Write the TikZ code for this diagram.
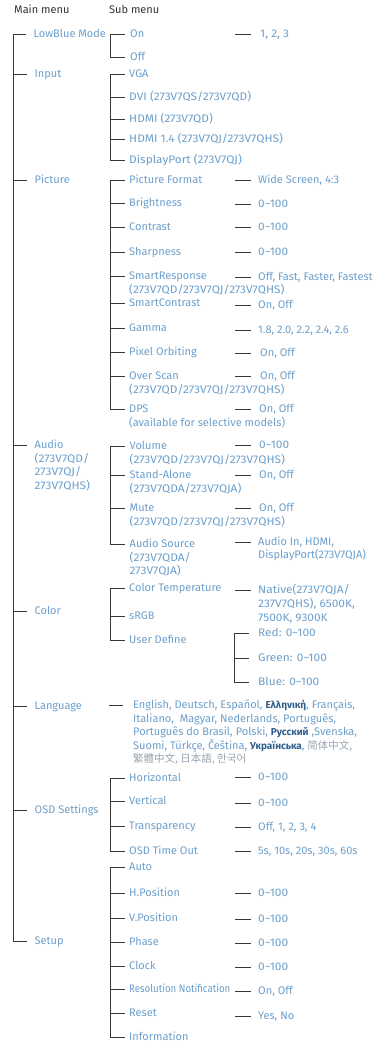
\documentclass[tikz,border=0pt]{standalone}
\usepackage{fontspec}
\setmainfont{Fira Sans}
\newfontfamily\cjkf{Noto Sans CJK SC}
\definecolor{txt}{HTML}{6C9FCB}
\definecolor{hdr}{HTML}{333333}
\definecolor{lnc}{HTML}{383838}
\definecolor{grkc}{HTML}{2F5E8E}
\definecolor{cjkc}{HTML}{98A4B0}
\newcommand\mfs{\fontsize{11}{13.3}\selectfont}
\newcommand\tld{\textasciitilde}
\newcommand\gk[1]{{\color{grkc}\fontsize{10}{13.3}\selectfont\bfseries #1}}
\newcommand\ck[1]{{\color{cjkc}\cjkf\fontsize{10.5}{13.3}\selectfont #1}}
\tikzset{
  it/.style={anchor=west, inner sep=0pt, text height=7.6pt, text depth=0pt, text=txt, font=\mfs},
  wide/.style={font=\mfs\addfontfeature{FakeStretch=1.08}},
  narrow/.style={font=\mfs\addfontfeature{FakeStretch=0.88}},
  hd/.style={it, text=hdr},
  ln/.style={draw=lnc, line width=0.95pt},
}
\begin{document}
\begin{tikzpicture}[x=1pt, y=-1pt]
\useasboundingbox (0,0) rectangle (379,1042);
% headers
\node[hd] (h1) at (14,10) {Main menu};
\node[hd] (h2) at (109,10) {Sub menu};
% column coordinates
\coordinate (trunk) at (13.3,0);
\coordinate (sub) at (110,0);
\coordinate (dcol) at (235,0);
\coordinate (ucol) at (234,0);
\coordinate (lcol) at (109,0);
% main items
\node[it] (mLB) at (33.5,34) {LowBlue Mode};
\node[it] (mIn) at (34.5,74) {Input};
\node[it] (mPic) at (34.5,180) {Picture};
\node[it] (mAud) at (34.5,445) {Audio};
\node[it,wide] (mAud2) at ([yshift=-13.4pt]mAud.west) {(273V7QD/};
\node[it,wide] (mAud3) at ([yshift=-13.4pt]mAud2.west) {273V7QJ/};
\node[it,wide] (mAud4) at ([yshift=-13.4pt]mAud3.west) {273V7QHS)};
\node[it] (mCol) at (34.5,611) {Color};
\node[it] (mLang) at (34.5,706) {Language};
\node[it] (mOSD) at (34.5,810) {OSD Settings};
\node[it] (mSet) at (34.5,941) {Setup};
\draw[ln] ([xshift=-7.5pt]mLB.west) -| (trunk |- mSet.west) -- ([xshift=-8pt]mSet.west);
\foreach \n in {mIn,mPic,mAud,mCol,mLang,mOSD}
  \draw[ln] (trunk |- \n.west) -- ([xshift=-8pt]\n.west);
% LowBlue sub
\node[it] (sOn) at (130,34) {On};
\node[it] (sOff) at (130,57) {Off};
\draw[ln] ([xshift=-5pt]sOn.west) -| (sub |- sOff.west) -- ([xshift=-5pt]sOff.west);
% Input sub
\node[it] (sVGA) at (129,74) {VGA};
\node[it,wide] (sDVI) at (129,97) {DVI (273V7QS/273V7QD)};
\node[it,wide] (sHD) at (129,119) {HDMI (273V7QD)};
\node[it,wide] (sH14) at (129,139) {HDMI 1.4 (273V7QJ/273V7QHS)};
\node[it,wide] (sDP) at (129,160) {DisplayPort (273V7QJ)};
\draw[ln] ([xshift=-4pt]sVGA.west) -| (sub |- sDP.west) -- ([xshift=-4pt]sDP.west);
\foreach \n in {sDVI,sHD,sH14}
  \draw[ln] (sub |- \n.west) -- ([xshift=-4pt]\n.west);
% Picture sub
\node[it] (sPF) at (129,180) {Picture Format};
\node[it] (sBr) at (129,203) {Brightness};
\node[it] (sCo) at (129,227) {Contrast};
\node[it] (sSh) at (129,252) {Sharpness};
\node[it] (sSR) at (129,276) {SmartResponse};
\node[it,wide] (sSRb) at ([yshift=-13.3pt]sSR.west) {(273V7QD/273V7QJ/273V7QHS)};
\node[it] (sSC) at (129,303) {SmartContrast};
\node[it] (sGa) at (129,328) {Gamma};
\node[it] (sPO) at (129,352) {Pixel Orbiting};
\node[it] (sOS) at (129,376) {Over Scan};
\node[it,wide] (sOSb) at ([yshift=-13.3pt]sOS.west) {(273V7QD/273V7QJ/273V7QHS)};
\node[it] (sDPS) at (129,409) {DPS};
\node[it] (sDPSb) at ([yshift=-13.6pt]sDPS.west) {(available for selective models)};
\draw[ln] ([xshift=-4pt]sPF.west) -| (sub |- sDPS.west) -- ([xshift=-4pt]sDPS.west);
\foreach \n in {sBr,sCo,sSh,sSR,sSC,sGa,sPO,sOS}
  \draw[ln] (sub |- \n.west) -- ([xshift=-4pt]\n.west);
% Audio sub
\node[it] (sVo) at (129.5,446) {Volume};
\node[it,wide] (sVob) at ([yshift=-13.3pt]sVo.west) {(273V7QD/273V7QJ/273V7QHS)};
\node[it] (sSA) at (129.5,475) {Stand-Alone};
\node[it,wide] (sSAb) at ([yshift=-13.6pt]sSA.west) {(273V7QDA/273V7QJA)};
\node[it] (sMu) at (129.5,508) {Mute};
\node[it,wide] (sMub) at ([yshift=-13.6pt]sMu.west) {(273V7QD/273V7QJ/273V7QHS)};
\node[it] (sAS) at (129.5,544) {Audio Source};
\node[it,wide] (sASb) at ([yshift=-13.5pt]sAS.west) {(273V7QDA/};
\node[it,wide] (sASc) at ([yshift=-13.5pt]sASb.west) {273V7QJA)};
\draw[ln] ([xshift=-4.5pt]sVo.west) -| (sub |- sAS.west) -- ([xshift=-4.5pt]sAS.west);
\foreach \n in {sSA,sMu}
  \draw[ln] (sub |- \n.west) -- ([xshift=-4.5pt]\n.west);
% Color sub
\node[it] (sCT) at (129,588) {Color Temperature};
\node[it] (sRGB) at (129,616) {sRGB};
\node[it] (sUD) at (129,640) {User Define};
\draw[ln] ([xshift=-4pt]sCT.west) -| (sub |- sUD.west) -- ([xshift=-4pt]sUD.west);
\draw[ln] (sub |- sRGB.west) -- ([xshift=-4pt]sRGB.west);
% OSD sub
\node[it] (sHo) at (129,778) {Horizontal};
\node[it] (sVe) at (129,801) {Vertical};
\node[it] (sTr) at (129,826) {Transparency};
\node[it] (sTO) at (129,851) {OSD Time Out};
\draw[ln] ([xshift=-4pt]sHo.west) -| (sub |- sTO.west) -- ([xshift=-4pt]sTO.west);
\foreach \n in {sVe,sTr}
  \draw[ln] (sub |- \n.west) -- ([xshift=-4pt]\n.west);
% Setup sub
\node[it] (sAu) at (129,867) {Auto};
\node[it] (sHP) at (129,893) {H.Position};
\node[it] (sVP) at (129,918) {V.Position};
\node[it] (sPh) at (129,942) {Phase};
\node[it] (sCl) at (129,966) {Clock};
\node[it,narrow] (sRN) at (129,989) {Resolution Notification};
\node[it] (sRe) at (129,1013) {Reset};
\node[it] (sInf) at (129,1037) {Information};
\draw[ln] ([xshift=-4pt]sAu.west) -| (sub |- sInf.west) -- ([xshift=-4pt]sInf.west);
\foreach \n in {sHP,sVP,sPh,sCl,sRN,sRe}
  \draw[ln] (sub |- \n.west) -- ([xshift=-4pt]\n.west);
% values
\node[it,wide] (vLB) at (260,34) {1, 2, 3};
\node[it] (vPF) at (258,180) {Wide Screen, 4:3};
\node[it,wide] (vBr) at (258,204) {0\tld100};
\node[it,wide] (vCo) at (258,227) {0\tld100};
\node[it,wide] (vSh) at (258,252) {0\tld100};
\node[it] (vSR) at (258,277) {Off, Fast, Faster, Fastest};
\node[it] (vSC) at (258,305) {On, Off};
\node[it] (vGa) at (258,330) {1.8, 2.0, 2.2, 2.4, 2.6};
\node[it] (vPO) at (260,353) {On, Off};
\node[it] (vOS) at (260,376) {On, Off};
\node[it] (vDP) at (259,409) {On, Off};
\node[it,wide] (vVo) at (259,445) {0\tld100};
\node[it] (vSA) at (259,475) {On, Off};
\node[it] (vMu) at (259,508) {On, Off};
\node[it] (vAS) at (258,542) {Audio In, HDMI,};
\node[it] (vASb) at ([yshift=-13pt]vAS.west) {DisplayPort(273V7QJA)};
\node[it,wide] (vCT) at (258,590) {Native(273V7QJA/};
\node[it,wide] (vCTb) at ([yshift=-14pt]vCT.west) {237V7QHS), 6500K,};
\node[it,wide] (vCTc) at ([yshift=-14pt]vCTb.west) {7500K, 9300K};
\node[it,wide] (vR) at (258,633) {Red: 0\tld100};
\node[it,wide] (vG) at (258,658) {Green: 0\tld100};
\node[it,wide] (vB) at (258,682) {Blue: 0\tld100};
\node[it,wide] (vH) at (258,777) {0\tld100};
\node[it,wide] (vV) at (258,803) {0\tld100};
\node[it] (vT) at (258,827) {Off, 1, 2, 3, 4};
\node[it] (vTO) at (258,851) {5s, 10s, 20s, 30s, 60s};
\node[it,wide] (vHP) at (258,893) {0\tld100};
\node[it,wide] (vVP) at (258,919) {0\tld100};
\node[it,wide] (vPh) at (258,943) {0\tld100};
\node[it,wide] (vCl) at (258,967) {0\tld100};
\node[it] (vRN) at (258,991) {On, Off};
\node[it] (vRe) at (258,1016) {Yes, No};
\foreach \n in {vLB,vPF,vBr,vCo,vSh,vSR,vSC,vGa,vPO,vOS,vDP,vVo,vSA,vMu,vAS,vCT,vH,vV,vT,vTO,vHP,vVP,vPh,vCl,vRN,vRe}
  \draw[ln] (dcol |- \n.west) -- ++(15.5,0);
% user define bracket
\draw[ln] ([xshift=-9pt]vR.west) -| (ucol |- vB.west) -- ([xshift=-9pt]vB.west);
\draw[ln] (ucol |- vG.west) -- ([xshift=-9pt]vG.west);
% language
\node[it] (vL1) at (133,705) {English, Deutsch, Español, \gk{Ελληνική}, Français,};
\node[it] (vL2) at ([yshift=-13.5pt]vL1.west) {Italiano,\ \ Magyar, Nederlands, Português,};
\node[it] (vL3) at ([yshift=-13.5pt]vL2.west) {Português do Brasil, Polski, \gk{Русский} ,Svenska,};
\node[it] (vL4) at ([yshift=-13.5pt]vL3.west) {Suomi, Türkçe, Čeština, \gk{Українська}, \ck{简体中文,}};
\node[it] (vL5) at ([yshift=-13.5pt]vL4.west) {\ck{繁體中文, 日本語, 한국어}};
\draw[ln] (lcol |- vL1.west) -- ++(14,0);
\end{tikzpicture}
\end{document}
